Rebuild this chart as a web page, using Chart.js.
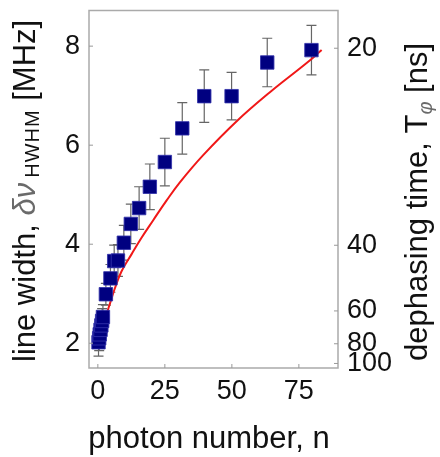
<!DOCTYPE html>
<html>
<head>
<meta charset="utf-8">
<script src="https://cdn.jsdelivr.net/npm/chart.js@4.4.1/dist/chart.umd.min.js"></script>
<style>
  html,body{margin:0;padding:0;background:#fff}
  #wrap{width:440px;height:457px;position:relative}
</style>
</head>
<body>
<div id="wrap"><canvas id="chart"></canvas></div>
<script>
// measured line widths vs photon number
const photonN  = [0.25,0.5,0.7,1.0,1.3,1.6,1.9,3.0,4.7,6.1,7.5,9.7,12.3,15.4,19.4,25,31.5,39.7,49.9,63.2,79.7];
const widthMHz = [2.02,2.10,2.18,2.27,2.36,2.45,2.53,2.99,3.31,3.66,3.67,4.03,4.41,4.73,5.16,5.66,6.34,6.99,6.99,7.67,7.92];
const widthErr = [0.28,0.25,0.25,0.25,0.25,0.25,0.25,0.22,0.28,0.32,0.32,0.35,0.40,0.43,0.46,0.48,0.52,0.53,0.48,0.49,0.50];

// theory curve
const fitN   = [0,0.5,1,2,3,4.5,6.3,8.8,12.6,16.3,20.6,25.6,30.6,39.3,51.7,64.2,77.9,83.5];
const fitMHz = [1.95,2.08,2.2,2.4,2.55,2.8,3.1,3.45,3.8,4.13,4.48,4.88,5.25,5.8,6.48,7.07,7.66,7.92];

const xTicks = [0,25,50,75];
const yTicks = [2,4,6,8];
const tTicks = [20,40,60,80,100]; // dephasing time [ns]
const tToMHz = t => 1000/(2*Math.PI*t);

const FONT = "'Liberation Sans', Arial, sans-serif";

// error bars under the squares, frame, inward tick marks, axis titles
const decor = {
  id: "decor",
  beforeDatasetsDraw(c){
    const {ctx, scales:{x,y}} = c;
    ctx.save();
    ctx.strokeStyle = "#666"; ctx.lineWidth = 1.2;
    photonN.forEach((n,i)=>{
      const px = x.getPixelForValue(n);
      const lo = y.getPixelForValue(widthMHz[i]-widthErr[i]);
      const hi = y.getPixelForValue(widthMHz[i]+widthErr[i]);
      ctx.beginPath();
      ctx.moveTo(px,lo); ctx.lineTo(px,hi);
      ctx.moveTo(px-5,lo); ctx.lineTo(px+5,lo);
      ctx.moveTo(px-5,hi); ctx.lineTo(px+5,hi);
      ctx.stroke();
    });
    ctx.restore();
  },
  afterDraw(c){
    const {ctx, chartArea:a, scales:{x,y,y2}} = c;
    ctx.save();
    ctx.strokeStyle = "#aaa"; ctx.lineWidth = 1.5;
    ctx.strokeRect(a.left, a.top, a.right-a.left, a.bottom-a.top);
    ctx.lineWidth = 1; ctx.strokeStyle = "#999";
    ctx.beginPath();
    x.ticks.forEach(t=>{const p=x.getPixelForValue(t.value);ctx.moveTo(p,a.bottom);ctx.lineTo(p,a.bottom-4);});
    y.ticks.forEach(t=>{const p=y.getPixelForValue(t.value);ctx.moveTo(a.left,p);ctx.lineTo(a.left+4,p);});
    y2.ticks.forEach(t=>{const p=y2.getPixelForValue(t.value);ctx.moveTo(a.right,p);ctx.lineTo(a.right-4,p);});
    ctx.stroke();

    ctx.fillStyle = "#111"; ctx.textBaseline = "alphabetic";
    ctx.font = `31px ${FONT}`; ctx.textAlign = "center";
    ctx.fillText("photon number, n", 209, 448);
    ctx.textAlign = "left";

    const run = (parts) => {
      let pos = 0;
      for (const p of parts){
        ctx.font = p.font; ctx.fillStyle = p.color || "#111";
        ctx.letterSpacing = p.ls || "0px";
        ctx.fillText(p.text, pos, p.dy || 0);
        pos += ctx.measureText(p.text).width + (p.gap || 0);
      }
      ctx.letterSpacing = "0px";
    };
    ctx.save();
    ctx.translate(35, 362); ctx.rotate(-Math.PI/2);
    run([
      {text:"line width, ", font:`31px ${FONT}`},
      {text:"δν", font:`italic 31px ${FONT}`, color:"#6a6a6a", gap:5},
      {text:"HWHM", font:`20px ${FONT}`, dy:4, ls:"1px"},
      {text:" [MHz]", font:`31px ${FONT}`}
    ]);
    ctx.restore();
    ctx.save();
    ctx.translate(427, 361); ctx.rotate(-Math.PI/2);
    run([
      {text:"dephasing time, T", font:`31px ${FONT}`},
      {text:"φ", font:`italic 20px ${FONT}`, color:"#6a6a6a", dy:5},
      {text:" [ns]", font:`31px ${FONT}`}
    ]);
    ctx.restore();
    ctx.restore();
  }
};

const tickFont = {family: FONT, size: 27};
const noPad = s => { s.paddingTop = 0; s.paddingBottom = 0; s.paddingLeft = 0; s.paddingRight = 0; };

new Chart(document.getElementById("chart"), {
  type: "scatter",
  data: {
    datasets: [
      {
        label: "data",
        data: photonN.map((n,i)=>({x:n, y:widthMHz[i]})),
        pointStyle: "rect",
        pointRadius: 9.5,
        backgroundColor: "#000080",
        borderColor: "rgba(50,50,170,0.85)",
        borderWidth: 1
      },
      {
        label: "theory",
        data: fitN.map((n,i)=>({x:n, y:fitMHz[i]})),
        showLine: true,
        pointRadius: 0,
        borderColor: "#f01818",
        borderWidth: 2,
        tension: 0.4,
        fill: false
      }
    ]
  },
  options: {
    responsive: true, maintainAspectRatio: false, animation: false,
    devicePixelRatio: 1,
    layout: {padding: {top: 8, left: 0, right: 0, bottom: 0}},
    plugins: {legend: {display: false}, tooltip: {enabled: false}},
    scales: {
      x: {
        type: "linear", min: -3.3, max: 89.6,
        afterBuildTicks: ax => { ax.ticks = xTicks.map(v=>({value:v})); },
        afterFit: s => { s.height = 89; noPad(s); },
        ticks: {color: "#111", font: tickFont, padding: 7, maxRotation: 0, autoSkip: false},
        grid: {display: false, drawTicks: false},
        border: {display: false}
      },
      y: {
        type: "linear", min: 1.5, max: 8.72,
        afterBuildTicks: ax => { ax.ticks = yTicks.map(v=>({value:v})); },
        afterFit: s => { s.width = 89; noPad(s); },
        ticks: {color: "#111", font: tickFont, padding: 9, autoSkip: false},
        grid: {display: false, drawTicks: false},
        border: {display: false}
      },
      y2: {
        type: "linear", position: "right", min: 1.5, max: 8.72,
        afterBuildTicks: ax => { ax.ticks = tTicks.map(t=>({value:tToMHz(t)})); },
        afterFit: s => { s.width = 102; noPad(s); },
        ticks: {
          color: "#111", font: tickFont, padding: 9, autoSkip: false,
          callback: v => { const t = tTicks.find(t=>Math.abs(tToMHz(t)-v)<1e-6); return t ?? ""; }
        },
        grid: {display: false, drawTicks: false},
        border: {display: false}
      }
    }
  },
  plugins: [decor]
});
</script>
</body>
</html>
